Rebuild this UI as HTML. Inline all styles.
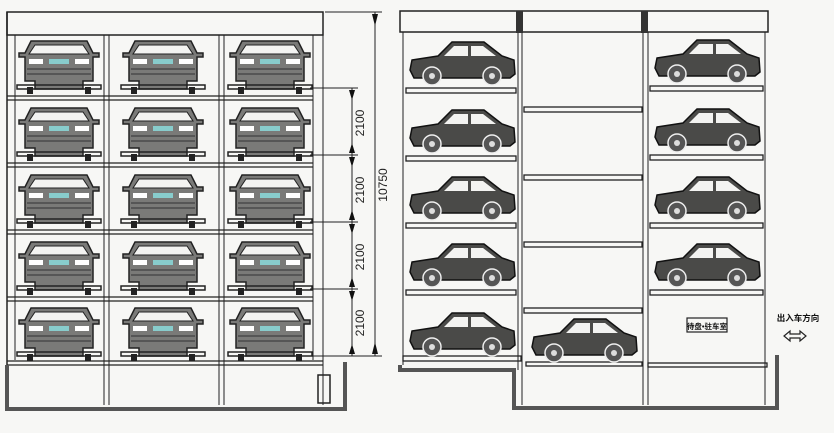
<!DOCTYPE html>
<html><head><meta charset="utf-8"><style>body{margin:0;background:#f7f7f5}svg{display:block}</style></head><body>
<svg width="834" height="433" viewBox="0 0 834 433" xmlns="http://www.w3.org/2000/svg">
<defs>
<g id="fc">
<path d="M14 4 L70 4 L76 16 L82 16 L82 20 L76 20 L76 44 L66 44 L66 52 L18 52 L18 44 L8 44 L8 20 L2 20 L2 16 L8 16 Z" fill="#7a7a78" stroke="#222" stroke-width="1.5"/>
<path d="M18 8 L66 8 L72 17 L12 17 Z" fill="#f3f3f1" stroke="#222" stroke-width="1"/>
<rect x="12" y="22" width="14" height="5" fill="#fff"/><rect x="58" y="22" width="14" height="5" fill="#fff"/>
<rect x="32" y="22" width="20" height="5" fill="#8cc"/>
<line x1="10" y1="32" x2="74" y2="32" stroke="#333"/><line x1="10" y1="37" x2="74" y2="37" stroke="#333"/>
<rect x="0" y="48" width="84" height="4" fill="none" stroke="#222" stroke-width="1.5"/>
<rect x="10" y="50" width="6" height="7" fill="#222"/><rect x="68" y="50" width="6" height="7" fill="#222"/>
</g>
<g id="sc">
<path d="M2 22 L28 18 L42 4 L74 4 L92 18 L104 22 L105 36 L100 40 L4 40 L0 32 Z" fill="#4a4a48" stroke="#111" stroke-width="1.5"/>
<path d="M44 8 L58 8 L58 18 L34 18 Z M61 8 L73 8 L86 18 L61 18 Z" fill="#f3f3f1"/>
<circle cx="22" cy="38" r="9" fill="#555" stroke="#eee" stroke-width="1.5"/>
<circle cx="82" cy="38" r="9" fill="#555" stroke="#eee" stroke-width="1.5"/>
<circle cx="22" cy="38" r="3" fill="#ddd"/><circle cx="82" cy="38" r="3" fill="#ddd"/>
</g>
</defs>
<g fill="none" stroke="#222">
<rect x="7" y="12" width="316" height="23" stroke-width="1.5"/>
<line x1="7" y1="12" x2="7" y2="365" stroke-width="1.5"/>
<line x1="15" y1="35" x2="15" y2="360"/>
<line x1="104" y1="35" x2="104" y2="405"/><line x1="109" y1="35" x2="109" y2="405"/>
<line x1="219" y1="35" x2="219" y2="405"/><line x1="224" y1="35" x2="224" y2="405"/>
<line x1="313" y1="35" x2="313" y2="360"/><line x1="323" y1="35" x2="323" y2="405"/>
<g stroke-width="1.3">
<line x1="7" y1="96" x2="313" y2="96"/><line x1="7" y1="100" x2="313" y2="100"/>
<line x1="7" y1="163" x2="313" y2="163"/><line x1="7" y1="167" x2="313" y2="167"/>
<line x1="7" y1="230" x2="313" y2="230"/><line x1="7" y1="234" x2="313" y2="234"/>
<line x1="7" y1="297" x2="313" y2="297"/><line x1="7" y1="301" x2="313" y2="301"/>
<line x1="7" y1="361" x2="323" y2="361"/><line x1="7" y1="365" x2="323" y2="365"/>
</g>
<path d="M7 365 L7 409 L345 409 L345 362" stroke="#555" stroke-width="4"/>
<rect x="318" y="375" width="12" height="28" stroke-width="1.5"/>
<line x1="375" y1="12" x2="375" y2="356"/>
<line x1="325" y1="12" x2="382" y2="12"/><line x1="312" y1="356" x2="382" y2="356"/>
<line x1="352" y1="88" x2="352" y2="356"/>
<line x1="310" y1="88" x2="358" y2="88"/><line x1="310" y1="155" x2="358" y2="155"/><line x1="310" y1="222" x2="358" y2="222"/><line x1="310" y1="289" x2="358" y2="289"/>
</g>
<g fill="#111">
<path d="M372 14 L375 26 L378 14Z M372 354 L375 342 L378 354Z"/>
<path d="M349 90 L352 100 L355 90Z M349 153 L352 143 L355 153Z M349 157 L352 167 L355 157Z M349 220 L352 210 L355 220Z M349 224 L352 234 L355 224Z M349 287 L352 277 L355 287Z M349 291 L352 301 L355 291Z M349 354 L352 344 L355 354Z"/>
</g>
<g font-family="Liberation Sans, sans-serif" font-size="12" fill="#222">
<text transform="translate(364,123) rotate(-90)" text-anchor="middle">2100</text>
<text transform="translate(364,190) rotate(-90)" text-anchor="middle">2100</text>
<text transform="translate(364,257) rotate(-90)" text-anchor="middle">2100</text>
<text transform="translate(364,323) rotate(-90)" text-anchor="middle">2100</text>
<text transform="translate(387,185) rotate(-90)" text-anchor="middle">10750</text>
</g>
<g>
<use href="#fc" x="17" y="37"/><use href="#fc" x="121" y="37"/><use href="#fc" x="228" y="37"/>
<use href="#fc" x="17" y="104"/><use href="#fc" x="121" y="104"/><use href="#fc" x="228" y="104"/>
<use href="#fc" x="17" y="171"/><use href="#fc" x="121" y="171"/><use href="#fc" x="228" y="171"/>
<use href="#fc" x="17" y="238"/><use href="#fc" x="121" y="238"/><use href="#fc" x="228" y="238"/>
<use href="#fc" x="17" y="304"/><use href="#fc" x="121" y="304"/><use href="#fc" x="228" y="304"/>
</g>
<g fill="none" stroke="#222">
<rect x="400" y="11" width="368" height="21" stroke-width="1.5"/>
<line x1="403" y1="32" x2="403" y2="365"/>
<line x1="518" y1="32" x2="518" y2="370"/><line x1="522" y1="32" x2="522" y2="405"/>
<line x1="643" y1="32" x2="643" y2="405"/><line x1="648" y1="32" x2="648" y2="405"/>
<line x1="765" y1="32" x2="765" y2="405"/>
<g stroke-width="1.3">
<rect x="406" y="88" width="110" height="5"/><rect x="406" y="156" width="110" height="5"/><rect x="406" y="223" width="110" height="5"/><rect x="406" y="290" width="110" height="5"/><rect x="403" y="356" width="118" height="5"/>
<rect x="524" y="107" width="118" height="5"/><rect x="524" y="175" width="118" height="5"/><rect x="524" y="242" width="118" height="5"/><rect x="524" y="308" width="118" height="5"/><rect x="526" y="362" width="116" height="4"/>
<rect x="650" y="86" width="113" height="5"/><rect x="650" y="155" width="113" height="5"/><rect x="650" y="223" width="113" height="5"/><rect x="650" y="290" width="113" height="5"/><rect x="648" y="363" width="119" height="4"/>
</g>
<path d="M400 365 L400 370 L514 370 L514 408 L777 408 L777 355" stroke="#555" stroke-width="4"/>
<rect x="687" y="318" width="40" height="14" stroke-width="1.2"/>
<path d="M784 336 L790 331 L790 334 L800 334 L800 331 L806 336 L800 341 L800 338 L790 338 L790 341 Z" stroke-width="1.2"/>
</g>
<rect x="516" y="11" width="7" height="22" fill="#333"/><rect x="641" y="11" width="7" height="22" fill="#333"/>
<g>
<use href="#sc" x="410" y="38"/><use href="#sc" x="410" y="106"/><use href="#sc" x="410" y="173"/><use href="#sc" x="410" y="240"/><use href="#sc" x="410" y="309"/>
<use href="#sc" x="532" y="315"/>
<use href="#sc" x="655" y="36"/><use href="#sc" x="655" y="105"/><use href="#sc" x="655" y="173"/><use href="#sc" x="655" y="240"/>
</g>
<g font-family="Liberation Sans, 'Noto Sans CJK SC', sans-serif" font-weight="bold" fill="#111">
<text x="707" y="329" font-size="7.5" text-anchor="middle">待盘•驻车室</text>
<text x="798" y="321" font-size="8.5" text-anchor="middle">出入车方向</text>
</g>
</svg>
</body></html>
